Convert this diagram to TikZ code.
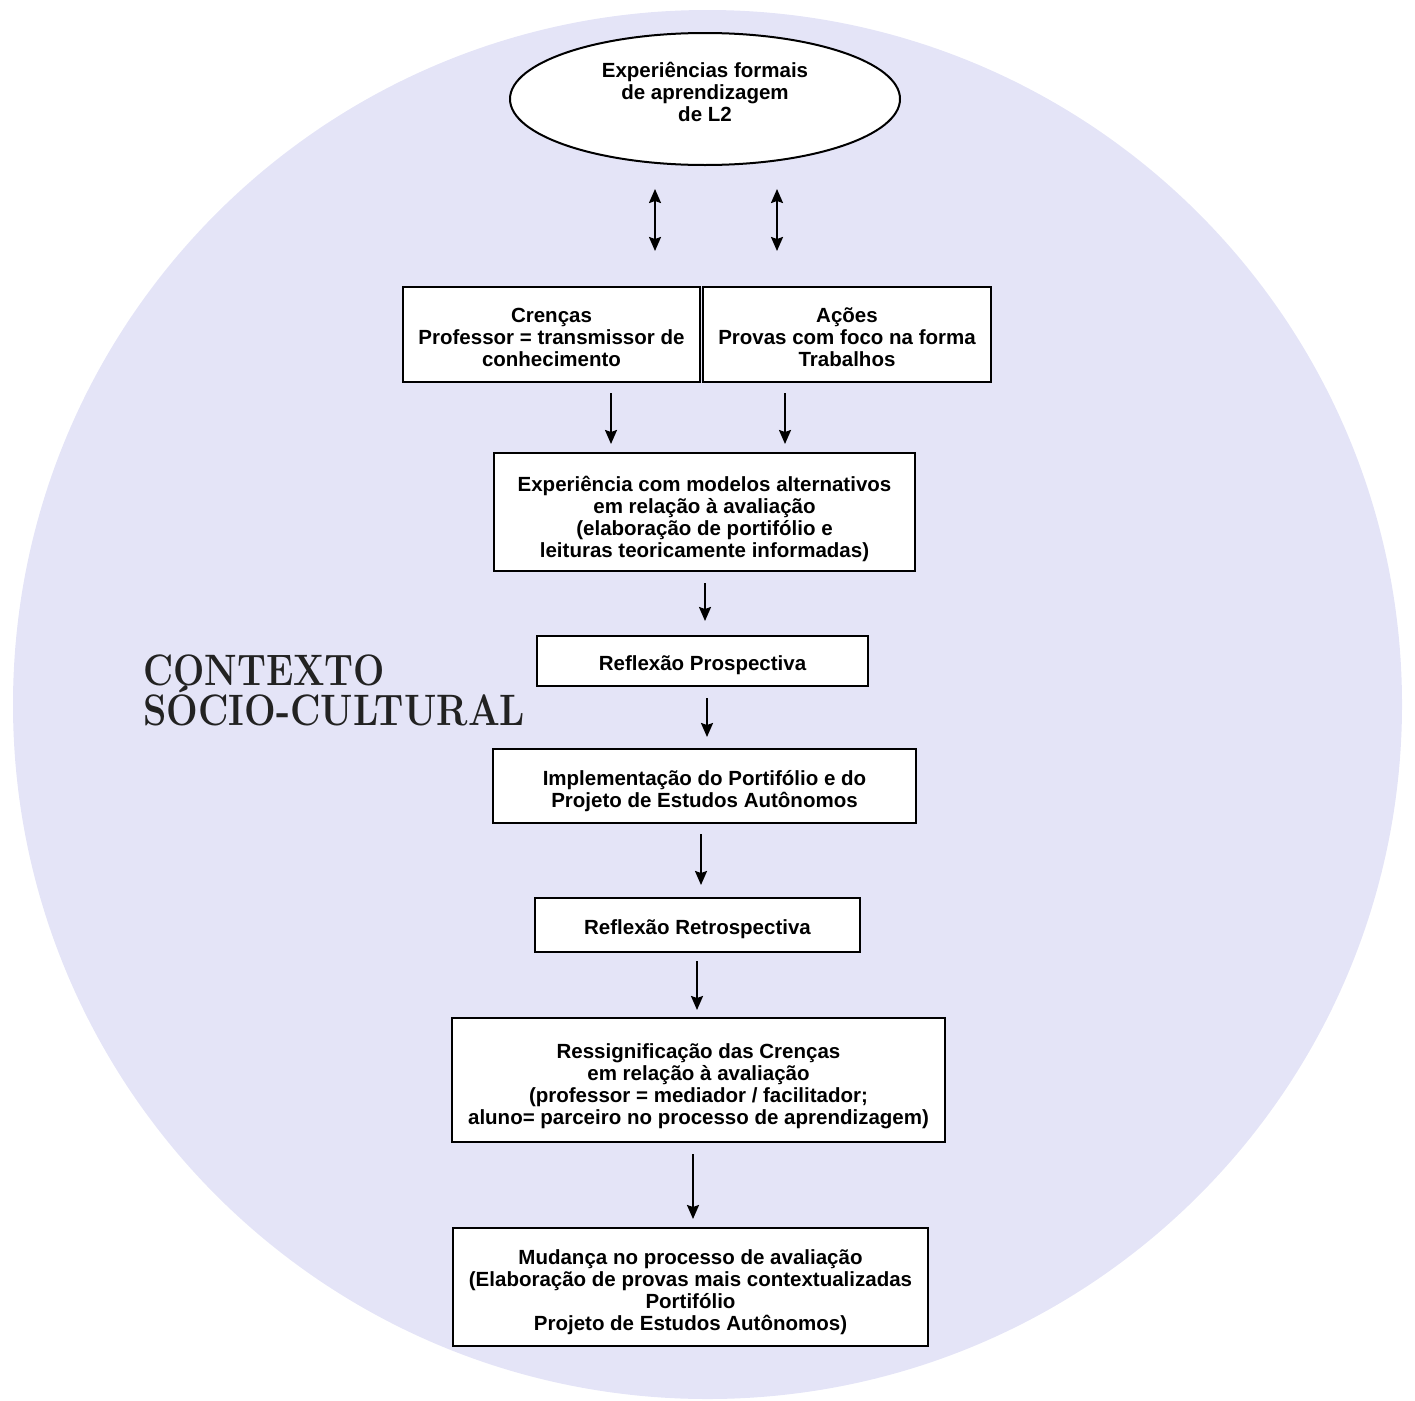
\documentclass[tikz,border=0pt]{standalone}
\usepackage{fontspec}
\usepackage{graphicx}
\newfontfamily\boxfont{Liberation Sans}
\usetikzlibrary{shapes.geometric,arrows.meta,calc}
\definecolor{bgcircle}{RGB}{228,228,247}
\definecolor{ctxcol}{RGB}{34,34,34}
\newcommand\topgap[1]{\rule{0pt}{#1pt}}
\tikzset{
  boxtext/.style={font=\boxfont\bfseries\fontsize{20.5}{22}\selectfont, align=center},
  stepbox/.style={boxtext, draw=black, line width=2pt, fill=white, inner sep=0pt},
  arr/.style={line width=2pt, -{Stealth[length=14pt,width=12pt,inset=2pt]}},
  darr/.style={line width=2pt, {Stealth[length=14pt,width=12pt,inset=2pt]}-{Stealth[length=14pt,width=12pt,inset=2pt]}},
  ctx/.style={font=\rmfamily\bfseries\fontsize{44}{44}\selectfont, text=ctxcol, anchor=base west, inner sep=0pt}
}
\begin{document}
\begin{tikzpicture}[x=1pt,y=-1pt]
\useasboundingbox (0,0) rectangle (1415,1400);
\fill[bgcircle] (707.5,704.5) circle (694.5);

\node[boxtext, draw=black, line width=2pt, fill=white, ellipse, minimum width=390pt, minimum height=132pt, inner sep=0pt,
  execute at end node={\rule[-14pt]{0pt}{14pt}}] (ell) at (705,99)
  {Experiências formais\\de aprendizagem\\de L2};

\node[stepbox, minimum width=297pt, minimum height=95pt] (cren) at (551.5,334.5)
  {\topgap{21}Crenças\\Professor = transmissor de\\conhecimento};
\node[stepbox, minimum width=288pt, minimum height=95pt] (acoes) at (847,334.5)
  {\topgap{21}Ações\\Provas com foco na forma\\Trabalhos};
\node[stepbox, minimum width=421pt, minimum height=118pt] (exper) at (704.5,512)
  {\topgap{29}Experiência com modelos alternativos\\em relação à avaliação\\(elaboração de portifólio e\\leituras teoricamente informadas)};
\node[stepbox, minimum width=331pt, minimum height=50pt] (prosp) at (702.5,661)
  {\topgap{24}Reflexão Prospectiva};
\node[stepbox, minimum width=423pt, minimum height=74pt] (impl) at (704.5,786)
  {\topgap{25}Implementação do Portifólio e do\\Projeto de Estudos Autônomos};
\node[stepbox, minimum width=325pt, minimum height=54pt] (retro) at (697.5,925)
  {\topgap{24}Reflexão Retrospectiva};
\node[stepbox, minimum width=493pt, minimum height=124pt] (ress) at (698.5,1080)
  {\topgap{27}Ressignificação das Crenças\\em relação à avaliação\\(professor = mediador / facilitador;\\aluno= parceiro no processo de aprendizagem)};
\node[stepbox, minimum width=475pt, minimum height=118pt] (mud) at (690.5,1287)
  {\topgap{25}Mudança no processo de avaliação\\(Elaboração de provas mais contextualizadas\\Portifólio\\Projeto de Estudos Autônomos)};

\node[ctx] (ctx1) at (143,685) {\resizebox{242pt}{\height}{CONTEXTO}};
\node[ctx] (ctx2) at (143,725) {\resizebox{382pt}{\height}{SÓCIO-CULTURAL}};

% connector x positions
\coordinate (d1) at (655,0);
\coordinate (d2) at (777,0);
\coordinate (a1) at (611,0);
\coordinate (a2) at (785,0);
\coordinate (a3) at (705,0);
\coordinate (a4) at (707,0);
\coordinate (a5) at (701,0);
\coordinate (a6) at (697,0);
\coordinate (a7) at (693,0);

\draw[darr, shorten <=23pt, shorten >=35pt] (ell.south -| d1) -- (cren.north -| d1);
\draw[darr, shorten <=23pt, shorten >=35pt] (ell.south -| d2) -- (acoes.north -| d2);
\draw[arr, shorten <=10pt, shorten >=8pt] (cren.south -| a1) -- (exper.north -| a1);
\draw[arr, shorten <=10pt, shorten >=8pt] (acoes.south -| a2) -- (exper.north -| a2);
\draw[arr, shorten <=11pt, shorten >=14pt] (exper.south -| a3) -- (prosp.north -| a3);
\draw[arr, shorten <=11pt, shorten >=11pt] (prosp.south -| a4) -- (impl.north -| a4);
\draw[arr, shorten <=10pt, shorten >=12pt] (impl.south -| a5) -- (retro.north -| a5);
\draw[arr, shorten <=8pt, shorten >=7pt] (retro.south -| a6) -- (ress.north -| a6);
\draw[arr, shorten <=11pt, shorten >=8pt] (ress.south -| a7) -- (mud.north -| a7);
\end{tikzpicture}
\end{document}
